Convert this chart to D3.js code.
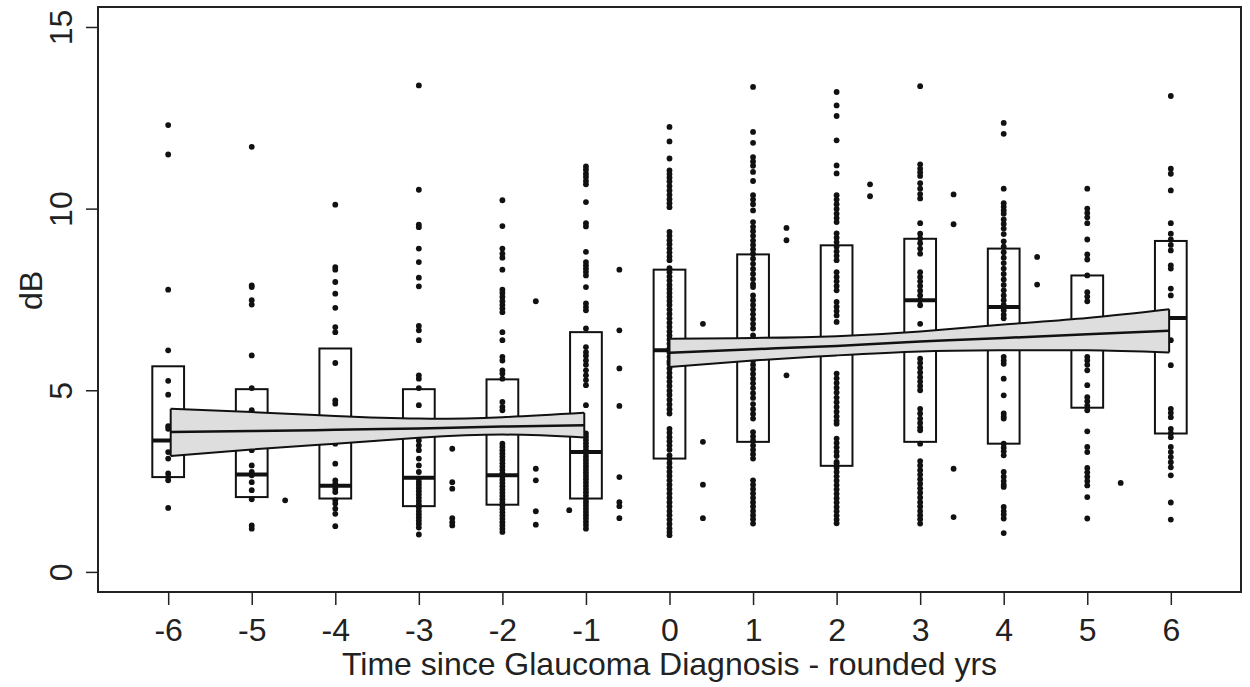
<!DOCTYPE html>
<html>
<head>
<meta charset="utf-8">
<script src="https://cdn.jsdelivr.net/npm/d3@7"></script>
<style>
  body { margin: 0; background: #fff; }
  svg { display: block; font-family: "Liberation Sans", Arial, sans-serif; }
</style>
</head>
<body>
<svg id="chart" width="1250" height="687"></svg>
<script>
// years since diagnosis (box + dot columns)
var years = [-6, -5, -4, -3, -2, -1, 0, 1, 2, 3, 4, 5, 6]
var boxLow = [2.61, 2.06, 2.02, 1.81, 1.85, 2.02, 3.12, 3.58, 2.92, 3.58, 3.53, 4.52, 3.81]
var boxMed = [3.62, 2.68, 2.37, 2.59, 2.66, 3.30, 6.10, 6.20, 6.20, 7.48, 7.29, 6.40, 6.99]
var boxHigh = [5.66, 5.03, 6.15, 5.03, 5.30, 6.60, 8.32, 8.74, 8.99, 9.17, 8.90, 8.16, 9.11]

// dB values per year column
var dots = [
  [12.30, 11.49, 7.77, 6.10, 5.26, 4.88, 4.01, 3.94, 3.30, 3.12, 2.71, 2.61, 2.52, 1.76],
  [11.70, 7.89, 7.84, 7.48, 7.36, 5.96, 5.06, 4.45, 3.35, 2.93, 2.75, 2.66, 2.47, 2.25, 2.00, 1.28, 1.19],
  [10.11, 8.39, 8.32, 7.98, 7.66, 7.27, 6.74, 6.60, 5.75, 4.72, 4.63, 3.53, 2.98, 2.52, 2.43, 2.29, 2.20, 1.97, 1.88, 1.74, 1.60, 1.26],
  [13.39, 10.52, 9.56, 9.49, 8.90, 8.53, 8.10, 7.86, 6.77, 6.65, 6.38, 5.41, 5.32, 5.06, 4.59, 3.62, 3.48, 3.35, 3.12, 2.93, 2.75,
    2.57, 2.48, 2.40, 2.31, 2.22, 2.13, 2.04, 1.95, 1.86, 1.77, 1.68, 1.59, 1.50, 1.41, 1.32, 1.22, 1.03],
  [10.23, 9.52, 8.90, 8.76, 8.65, 8.32, 7.77, 7.68, 7.57, 7.45, 7.35, 7.25, 7.15, 6.60, 6.38, 5.92, 5.82, 5.55, 5.46, 5.32, 4.68, 4.54, 4.45,
    3.53, 3.44, 3.35, 3.26, 3.17, 3.08, 2.99, 2.90, 2.81, 2.72, 2.63, 2.54, 2.45, 2.36, 2.27, 2.18, 2.09, 2.00, 1.91, 1.82, 1.73, 1.64,
    1.55, 1.46, 1.37, 1.28, 1.19, 1.10],
  [11.16, 11.07, 10.96, 10.87, 10.76, 10.67, 10.18, 9.60, 9.51, 8.81, 8.53, 8.44, 8.35, 8.26, 8.16, 7.84, 7.39, 7.29, 7.20, 6.70,
    6.19, 6.05, 5.95, 5.82, 5.70, 5.55, 5.41, 5.28, 5.14, 4.59, 3.81, 3.72, 3.63, 3.54, 3.45, 3.36, 3.27, 3.18, 3.09, 3.00, 2.91,
    2.82, 2.73, 2.64, 2.55, 2.46, 2.37, 2.28, 2.19, 2.10, 2.01, 1.92, 1.83, 1.74, 1.65, 1.56, 1.47, 1.38, 1.29, 1.19],
  [12.25, 11.85, 11.38, 11.05, 10.95, 10.85, 10.75, 10.62, 10.50, 10.38, 10.26, 10.15, 10.04, 9.36, 9.25, 9.13, 9.02, 8.90, 8.79,
    8.68, 8.58, 8.36, 8.25, 8.13, 8.02, 7.90, 7.79, 7.68, 7.57, 7.46, 7.35, 7.22, 7.10, 6.98, 6.86, 6.74, 6.62, 6.51, 6.40, 6.28,
    6.16, 6.04, 5.92, 5.80, 5.73, 5.60, 5.48, 5.36, 5.24, 5.12, 4.99, 4.87, 4.74, 4.61, 4.48, 4.36, 3.94, 3.83, 3.71, 3.60, 3.48,
    3.36, 3.21, 3.12, 3.00, 2.88, 2.76, 2.64, 2.52, 2.40, 2.28, 2.16, 2.04, 1.92, 1.80, 1.68, 1.56, 1.44, 1.32, 1.20, 1.10, 1.01],
  [13.35, 12.11, 11.81, 11.42, 11.30, 11.18, 11.01, 10.76, 10.37, 10.25, 10.12, 9.95, 9.63, 9.50, 9.38, 9.25, 9.12, 9.00, 8.88,
    8.76, 8.62, 8.48, 8.34, 8.20, 8.06, 7.92, 7.84, 7.61, 7.48, 7.35, 7.22, 7.09, 6.96, 6.83, 6.70, 6.51, 5.82, 5.70, 5.58, 5.45,
    5.32, 5.19, 5.06, 4.92, 4.79, 4.62, 4.48, 4.35, 4.22, 3.85, 3.73, 3.61, 3.48, 3.36, 3.24, 3.12, 2.52, 2.40, 2.28, 2.16, 2.04,
    1.92, 1.80, 1.68, 1.56, 1.45, 1.33],
  [13.21, 12.84, 12.55, 11.88, 11.19, 10.97, 10.37, 10.25, 10.12, 9.99, 9.86, 9.74, 9.63, 9.32, 9.20, 9.08, 8.95, 8.82, 8.70,
    8.58, 8.25, 8.12, 8.00, 7.87, 7.75, 7.43, 7.30, 7.18, 7.06, 6.88, 5.46, 5.33, 5.20, 5.07, 4.94, 4.80, 4.67, 4.54, 4.41, 4.28,
    4.16, 4.08, 3.67, 3.55, 3.43, 3.31, 3.19, 3.03, 2.99, 2.87, 2.75, 2.63, 2.51, 2.39, 2.27, 2.15, 2.03, 1.91, 1.79, 1.67, 1.55,
    1.44, 1.34],
  [13.37, 11.22, 11.10, 11.00, 10.90, 10.70, 10.55, 10.40, 10.28, 9.60, 9.31, 9.18, 9.05, 8.90, 8.76, 8.25, 8.12, 8.00, 7.87,
    7.74, 7.61, 7.48, 7.34, 6.83, 5.87, 5.75, 5.62, 5.49, 5.36, 5.24, 5.12, 5.00, 4.49, 4.36, 4.22, 4.10, 3.98, 3.90, 3.53, 3.05,
    2.93, 2.80, 2.68, 2.55, 2.43, 2.30, 2.18, 2.05, 1.92, 1.80, 1.68, 1.56, 1.45, 1.33],
  [12.36, 12.06, 10.55, 10.15, 10.05, 9.95, 9.86, 9.70, 9.58, 9.45, 9.30, 9.10, 8.95, 8.80, 8.65, 8.50, 8.35, 8.20, 8.05, 7.90,
    7.75, 7.61, 7.48, 7.35, 7.20, 7.08, 6.98, 5.92, 5.82, 5.73, 5.32, 4.86, 4.36, 4.28, 4.22, 3.53, 3.42, 3.32, 3.21, 2.75, 2.62,
    2.50, 2.40, 2.34, 1.79, 1.68, 1.58, 1.47, 1.07],
  [10.55, 10.00, 9.88, 9.76, 9.60, 9.15, 8.74, 8.60, 8.16, 7.70, 7.58, 7.45, 5.92, 5.82, 5.70, 5.55, 5.14, 4.81, 4.70, 4.58, 4.45,
    3.87, 3.44, 3.30, 2.86, 2.74, 2.62, 2.50, 2.38, 2.06, 1.47],
  [13.10, 11.10, 10.96, 10.50, 9.60, 9.31, 9.15, 9.00, 8.85, 8.44, 8.35, 7.80, 7.61, 6.38, 5.69, 4.49, 4.38, 4.26, 3.94, 3.82,
    3.71, 3.44, 3.30, 3.16, 3.02, 2.88, 2.66, 1.91, 1.44]
]

// points lying between the year columns
var offX = [-4.6, -2.6, -2.6, -2.6, -2.6, -2.6, -2.6, -1.6, -1.6, -1.6, -1.6, -1.6, -1.2,
  -0.6, -0.6, -0.6, -0.6, -0.6, -0.6, -0.6, -0.6, 0.4, 0.4, 0.4, 0.4, 1.4, 1.4, 1.4,
  2.4, 2.4, 3.4, 3.4, 3.4, 3.4, 4.4, 4.4, 5.4]
var offY = [1.97, 3.39, 2.47, 2.29, 1.48, 1.37, 1.28, 7.45, 2.84, 2.52, 1.67, 1.30, 1.70,
  8.32, 6.65, 5.60, 4.57, 2.61, 1.92, 1.81, 1.48, 6.83, 3.58, 2.40, 1.48, 9.47, 9.13, 5.41,
  10.67, 10.34, 10.39, 9.57, 2.84, 1.51, 8.67, 7.91, 2.45]

// fitted lines with confidence band, before and after diagnosis
var preX = [-5.97, -5, -4, -3, -2, -1.02]
var preFit = [3.85, 3.88, 3.91, 3.95, 4.00, 4.04]
var preLo = [3.19, 3.37, 3.53, 3.69, 3.78, 3.70]
var preHi = [4.49, 4.40, 4.29, 4.22, 4.26, 4.38]
var postX = [0, 1, 2, 3, 4, 5, 5.98]
var postFit = [6.03, 6.13, 6.22, 6.34, 6.44, 6.54, 6.64]
var postLo = [5.64, 5.82, 5.96, 6.07, 6.10, 6.10, 6.04]
var postHi = [6.42, 6.44, 6.49, 6.62, 6.81, 6.99, 7.23]

var yTicks = [0, 5, 10, 15]

var svg = d3.select('#chart')
var plotL = 98, plotR = 1241, plotT = 7, plotB = 592

var x = d3.scaleLinear().domain([-6.84, 6.84]).range([plotL, plotR])
var y = d3.scaleLinear().domain([-0.553, 15.55]).range([plotB, plotT])
var halfBox = 0.19
var dotR = 2.9

// boxes
var boxes = svg.append('g').attr('class', 'boxes')
years.forEach(function (yr, i) {
  boxes.append('rect')
    .attr('x', x(yr - halfBox))
    .attr('y', y(boxHigh[i]))
    .attr('width', x(yr + halfBox) - x(yr - halfBox))
    .attr('height', y(boxLow[i]) - y(boxHigh[i]))
    .attr('fill', 'none')
    .attr('stroke', '#111')
    .attr('stroke-width', 2)
  boxes.append('line')
    .attr('x1', x(yr - halfBox))
    .attr('x2', x(yr + halfBox))
    .attr('y1', y(boxMed[i]))
    .attr('y2', y(boxMed[i]))
    .attr('stroke', '#111')
    .attr('stroke-width', 4)
})

// dots
var dotG = svg.append('g').attr('class', 'dots')
years.forEach(function (yr, i) {
  dotG.selectAll(null)
    .data(dots[i])
    .enter().append('circle')
      .attr('cx', x(yr))
      .attr('cy', (d) => y(d))
      .attr('r', dotR)
      .attr('fill', '#111')
})
dotG.selectAll(null)
  .data(offX)
  .enter().append('circle')
    .attr('cx', (d) => x(d))
    .attr('cy', (d, i) => y(offY[i]))
    .attr('r', dotR)
    .attr('fill', '#111')

// bands
function drawBand (xs, lo, hi, fit) {
  var pts = xs.map((v, i) => ({ x: v, lo: lo[i], hi: hi[i], fit: fit[i] }))
  var area = d3.area()
    .curve(d3.curveNatural)
    .x((d) => x(d.x))
    .y0((d) => y(d.lo))
    .y1((d) => y(d.hi))
  var upper = d3.line().curve(d3.curveNatural).x((d) => x(d.x)).y((d) => y(d.hi))
  var lower = d3.line().curve(d3.curveNatural).x((d) => x(d.x)).y((d) => y(d.lo))
  var fitLine = d3.line().curve(d3.curveNatural).x((d) => x(d.x)).y((d) => y(d.fit))
  var g = svg.append('g').attr('class', 'band')

  g.append('path').datum(pts).attr('d', area)
    .attr('fill', '#dedede').attr('stroke', 'none')
  g.append('path').datum(pts).attr('d', upper)
    .attr('fill', 'none').attr('stroke', '#111').attr('stroke-width', 2)
  g.append('path').datum(pts).attr('d', lower)
    .attr('fill', 'none').attr('stroke', '#111').attr('stroke-width', 2)
  // vertical ends
  var a = pts[0], b = pts[pts.length - 1]
  ;[a, b].forEach(function (p) {
    g.append('line')
      .attr('x1', x(p.x)).attr('x2', x(p.x))
      .attr('y1', y(p.lo)).attr('y2', y(p.hi))
      .attr('stroke', '#111').attr('stroke-width', 2)
  })
  g.append('path').datum(pts).attr('d', fitLine)
    .attr('fill', 'none').attr('stroke', '#111').attr('stroke-width', 2.5)
}
drawBand(preX, preLo, preHi, preFit)
drawBand(postX, postLo, postHi, postFit)

// frame
svg.append('rect')
  .attr('x', plotL).attr('y', plotT)
  .attr('width', plotR - plotL).attr('height', plotB - plotT)
  .attr('fill', 'none').attr('stroke', '#222').attr('stroke-width', 2)

// axes
var xAxis = svg.append('g')
  .attr('transform', 'translate(0,' + plotB + ')')
  .call(d3.axisBottom(x).tickValues(years).tickSize(13).tickPadding(13).tickFormat(d3.format('d')))
xAxis.select('.domain').remove()
xAxis.selectAll('line').attr('stroke', '#222').attr('stroke-width', 1.5)
xAxis.selectAll('text')
  .attr('font-size', 32).attr('fill', '#222')
  .attr('font-family', '"Liberation Sans", Arial, sans-serif')
  .text((d) => d < 0 ? '-' + Math.abs(d) : d)

var yAxis = svg.append('g')
  .attr('transform', 'translate(' + plotL + ',0)')
  .call(d3.axisLeft(y).tickValues(yTicks).tickSize(12))
yAxis.select('.domain').remove()
yAxis.selectAll('line').attr('stroke', '#222').attr('stroke-width', 1.5)
yAxis.selectAll('text')
  .attr('font-size', 32).attr('fill', '#222')
  .attr('font-family', '"Liberation Sans", Arial, sans-serif')
  .attr('text-anchor', 'middle')
  .attr('transform', 'rotate(-90)')
  .attr('x', 0).attr('y', -26).attr('dy', 0)

// axis titles
svg.append('text')
  .attr('x', (x(-6) + x(6)) / 2)
  .attr('y', 675)
  .attr('text-anchor', 'middle')
  .attr('font-size', 32).attr('fill', '#222')
  .text('Time since Glaucoma Diagnosis - rounded yrs')

svg.append('text')
  .attr('transform', 'translate(42,' + y(7.75) + ') rotate(-90)')
  .attr('text-anchor', 'middle')
  .attr('font-size', 32).attr('fill', '#222')
  .text('dB')
</script>
</body>
</html>
